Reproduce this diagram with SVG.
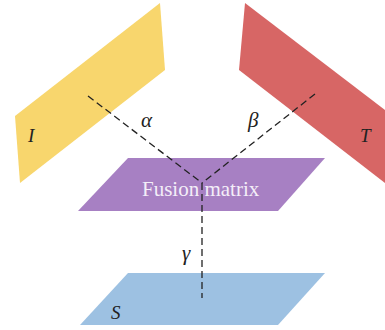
<svg xmlns="http://www.w3.org/2000/svg" width="385" height="330" viewBox="0 0 385 330">
<style>
.lbl{font-family:"Liberation Serif","DejaVu Serif",serif;font-style:italic;font-size:19px;fill:#222}
.gr{font-family:"Liberation Serif","DejaVu Serif",serif;font-style:italic;font-size:21px;fill:#222}
.title{font-family:"Liberation Serif","DejaVu Serif",serif;font-size:21px;fill:#f4eef8}
.dash{stroke:#222;stroke-width:1.3;stroke-dasharray:7 4;fill:none}
</style>
<rect width="385" height="330" fill="#fff"/>
<g id="plane-I">
<polygon points="160,3 165,70 20,183 15,116" fill="#F8D66D"/>
<text class="lbl" x="28" y="142">I</text>
</g>
<g id="plane-T">
<polygon points="245,3 385,110 385,183 239,70" fill="#D76665"/>
<text class="lbl" x="360" y="142">T</text>
</g>
<g id="fusion">
<polygon points="128,158 325,158 278,211 78,211" fill="#A780C3"/>
</g>
<g id="plane-S">
<polygon points="128,273 325,273 278,325 80,325" fill="#9DC1E2"/>
<text class="lbl" x="111" y="319">S</text>
</g>
<g id="connectors">
<line class="dash" x1="88" y1="96" x2="202" y2="183"/>
<line class="dash" x1="315" y1="94" x2="202" y2="183"/>
<line class="dash" x1="202" y1="183" x2="202" y2="298"/>
<text class="gr" x="141" y="127">α</text>
<text class="gr" x="248" y="127">β</text>
<text class="gr" x="182" y="260">γ</text>
</g>
<text class="title" x="142" y="196">Fusion matrix</text>
</svg>
